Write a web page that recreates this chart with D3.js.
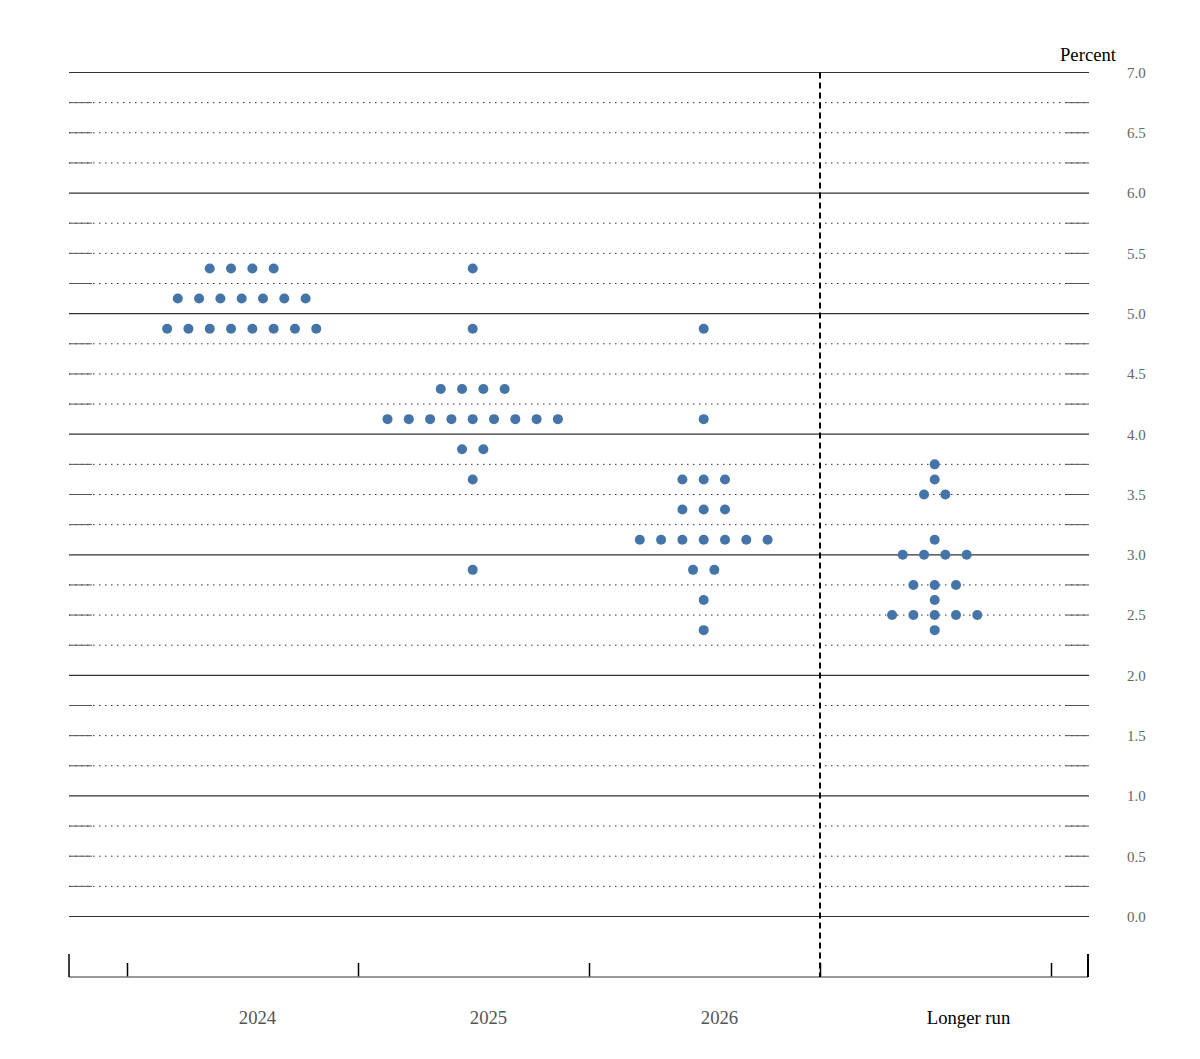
<!DOCTYPE html>
<html>
<head>
<meta charset="utf-8">
<script src="https://cdn.jsdelivr.net/npm/d3@7"></script>
<style>
  body { margin: 0; background: #fff; }
  text { font-family: "Liberation Serif", serif; }
</style>
</head>
<body>
<svg id="chart"></svg>
<script>
var width = 1200,
    height = 1059,
    margin = { top: 72, bottom: 143, left: 69, right: 111 }

// FOMC participants' projections, midpoint of target range
var categories = ["2024", "2025", "2026", "Longer run"]
// [rate, number of participants] per category
var dots2024 = [[5.375, 4], [5.125, 7], [4.875, 8]]
var dots2025 = [[5.375, 1], [4.875, 1], [4.375, 4], [4.125, 9], [3.875, 2], [3.625, 1], [2.875, 1]]
var dots2026 = [[4.875, 1], [4.125, 1], [3.625, 3], [3.375, 3], [3.125, 7], [2.875, 2], [2.625, 1], [2.375, 1]]
var dotsLonger = [[3.75, 1], [3.625, 1], [3.5, 2], [3.125, 1], [3.0, 4], [2.75, 3], [2.625, 1], [2.5, 5], [2.375, 1]]
var allDots = [dots2024, dots2025, dots2026, dotsLonger]
var yTickLabels = ["0.0", "0.5", "1.0", "1.5", "2.0", "2.5", "3.0", "3.5", "4.0", "4.5", "5.0", "5.5", "6.0", "6.5", "7.0"]
var gridValues = d3.range(0, 7.01, 0.25)

document.addEventListener("DOMContentLoaded", function(e) {
    drawGraph()
})

function drawGraph() {
    var svg = d3.select("#chart")
        .attr("width", width)
        .attr("height", height)

    var x0 = margin.left, x1 = width - margin.right   // 69 .. 1089
    var y = d3.scaleLinear().domain([0, 7]).range([916.5, 72.5])
    var x = d3.scaleBand().domain(categories).range([127, 1051])

    // grid lines
    var grid = svg.append("g")
    gridValues.forEach(function(v) {
        var whole = Math.abs(v - Math.round(v)) < 1e-6
        grid.append("line")
            .attr("x1", x0).attr("x2", x1)
            .attr("y1", y(v)).attr("y2", y(v))
            .attr("stroke", whole ? "#333" : "#333")
            .attr("stroke-width", whole ? 1.2 : 1)
            .attr("stroke-dasharray", whole ? null : "1.5,4.5")
        if (!whole) {
            grid.append("line").attr("x1", x0).attr("x2", x0 + 23)
                .attr("y1", y(v)).attr("y2", y(v)).attr("stroke", "#555")
            grid.append("line").attr("x1", x1 - 23).attr("x2", x1)
                .attr("y1", y(v)).attr("y2", y(v)).attr("stroke", "#555")
        }
    })

    // right axis labels
    var yAxis = d3.axisRight(y)
        .tickValues(yTickLabels.map(Number))
        .tickFormat(function(d, i) { return yTickLabels[i] })
        .tickSize(0)
        .tickPadding(38)
    var ya = svg.append("g")
        .attr("transform", "translate(" + x1 + ",0)")
        .call(yAxis)
    ya.select(".domain").remove()
    ya.selectAll("text")
        .attr("font-family", "Liberation Serif, serif")
        .attr("font-size", 15)
        .attr("fill", "#666")

    svg.append("text")
        .attr("x", 1088).attr("y", 61)
        .attr("text-anchor", "middle")
        .attr("font-size", 18.7)
        .attr("fill", "#000")
        .text("Percent")

    // bottom axis
    var xb = d3.scaleLinear().domain([0, 4]).range([127, 1051])
    var xAxis = d3.axisBottom(xb).ticks(4).tickSize(-14).tickFormat("")
    var xa = svg.append("g")
        .attr("transform", "translate(0,977)")
        .call(xAxis)
    xa.select(".domain").remove()
    xa.selectAll(".tick line").attr("stroke", "#000").attr("stroke-width", 1.5)
    svg.append("line").attr("x1", x0).attr("x2", x1 - 1)
        .attr("y1", 977).attr("y2", 977).attr("stroke", "#777").attr("stroke-width", 1.5)
    svg.append("line").attr("x1", x0).attr("x2", x0)
        .attr("y1", 954).attr("y2", 977).attr("stroke", "#000").attr("stroke-width", 1.5)
    svg.append("line").attr("x1", x1 - 1).attr("x2", x1 - 1)
        .attr("y1", 954).attr("y2", 977).attr("stroke", "#000").attr("stroke-width", 2)

    svg.append("g").selectAll("text")
        .data(categories).enter().append("text")
        .attr("x", function(d, i) { return x(d) + x.bandwidth() / 2 + (i == 3 ? 33 : 15) })
        .attr("y", 1024)
        .attr("text-anchor", "middle")
        .attr("font-size", 18.7)
        .attr("fill", function(d, i) { return i == 3 ? "#000" : "#555" })
        .text(function(d) { return d })

    // separator before longer run
    svg.append("line")
        .attr("x1", xb(3)).attr("x2", xb(3))
        .attr("y1", y(7)).attr("y2", 977)
        .attr("stroke", "#000").attr("stroke-width", 2)
        .attr("stroke-dasharray", "6,4")

    // dots
    var spacing = 21.3
    var points = []
    allDots.forEach(function(rows, ci) {
        var cx = x(categories[ci]) + x.bandwidth() / 2 - 0.8
        rows.forEach(function(r) {
            for (var k = 0; k < r[1]; k++) {
                points.push({ x: cx + (k - (r[1] - 1) / 2) * spacing, v: r[0] })
            }
        })
    })
    svg.append("g").selectAll("circle")
        .data(points).enter().append("circle")
        .attr("cx", function(d) { return d.x })
        .attr("cy", function(d) { return y(d.v) })
        .attr("r", 5)
        .attr("fill", "#4575a8")
}
</script>
</body>
</html>
